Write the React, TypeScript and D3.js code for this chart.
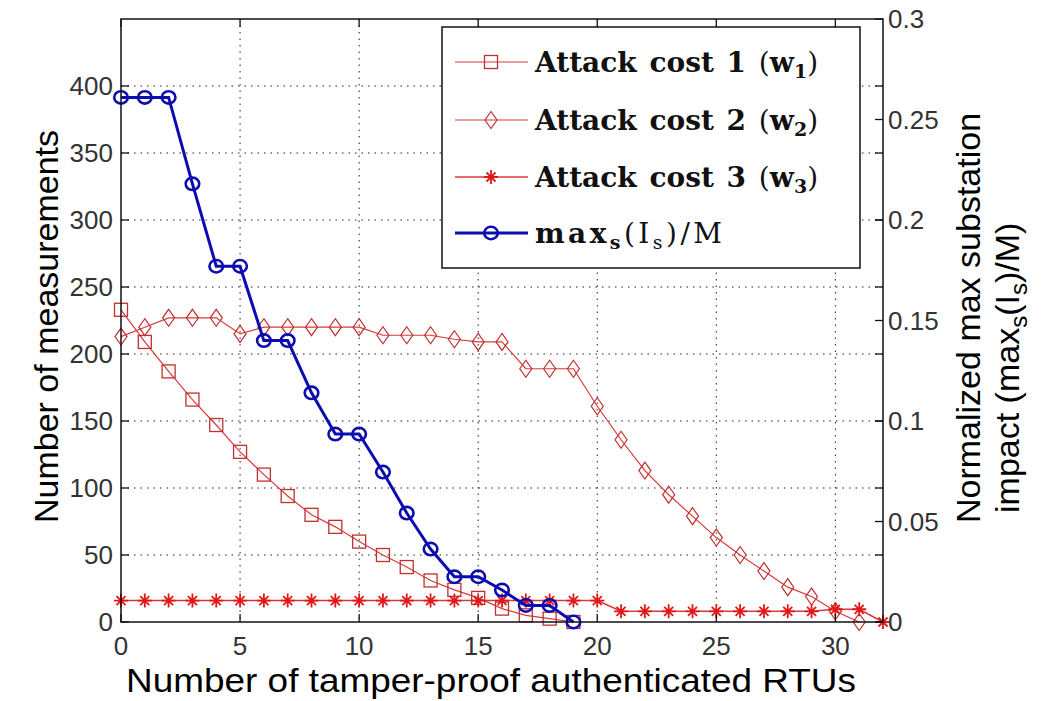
import React from 'react';
import * as d3 from 'd3';

// values
const cost1 = [233, 209, 187, 166, 147, 127, 110, 94, 80, 71, 60, 50, 41, 31, 24, 18, 10, 5, 2.5, 0];
const cost2 = [213, 220, 227, 227, 227, 215, 220, 220, 220, 220, 220, 214, 214, 214, 211, 209, 209, 189, 189, 189,
  161, 136, 113, 95, 79, 63, 50, 38, 26, 19, 8, 0];
const cost3 = [16, 16, 16, 16, 16, 16, 16, 16, 16, 16, 16, 16, 16, 16, 16, 16, 16, 16, 16, 16, 16,
  8, 8, 8, 8, 8, 8, 8, 8, 8, 9.5, 9.5, 0];
const impact = [0.261, 0.261, 0.261, 0.218, 0.177, 0.177, 0.140, 0.140, 0.114, 0.0935, 0.0935, 0.0746, 0.0542,
  0.0363, 0.0225, 0.0225, 0.0159, 0.0082, 0.0082, 0];

const xTicks = [0, 5, 10, 15, 20, 25, 30];
const leftTicks = [0, 50, 100, 150, 200, 250, 300, 350, 400];
const rightTicks = [0, 0.05, 0.1, 0.15, 0.2, 0.25, 0.3];
const gridX = [5, 10, 15, 20, 25, 30];
const gridY = [50, 100, 150, 200, 250, 300, 350, 400];

const W = 1053;
const H = 701;
const m = { left: 121, right: 883, top: 19, bottom: 622 };

const RED = '#d83a3a';
const DARKRED = '#c03030';
const BLUE = '#0c0cb0';

const App: React.FC = () => {
  const x = d3.scaleLinear().domain([0, 32]).range([m.left, m.right]);
  const yL = d3.scaleLinear().domain([0, 450]).range([m.bottom, m.top]);
  const yR = d3.scaleLinear().domain([0, 0.3]).range([m.bottom, m.top]);

  const lineL = d3.line<number>().x((_, i) => x(i)).y(d => yL(d));
  const lineR = d3.line<number>().x((_, i) => x(i)).y(d => yR(d));

  const square = (cx: number, cy: number, k: string) => (
    <rect key={k} x={cx - 6.5} y={cy - 6.5} width={13} height={13} fill="none" stroke={DARKRED} strokeWidth={1.3} />
  );
  const diamond = (cx: number, cy: number, k: string) => (
    <path key={k} d={`M${cx},${cy - 8.5}L${cx + 6},${cy}L${cx},${cy + 8.5}L${cx - 6},${cy}Z`}
      fill="none" stroke={DARKRED} strokeWidth={1.2} />
  );
  const star = (cx: number, cy: number, k: string) => (
    <path key={k} d={`M${cx - 7},${cy}H${cx + 7}M${cx},${cy - 7}V${cy + 7}M${cx - 4.5},${cy - 4.5}L${cx + 4.5},${cy + 4.5}M${cx - 4.5},${cy + 4.5}L${cx + 4.5},${cy - 4.5}`}
      stroke="#e01818" strokeWidth={1.8} fill="none" />
  );
  const circle = (cx: number, cy: number, k: string) => (
    <ellipse key={k} cx={cx} cy={cy} rx={6.8} ry={6.2} fill="none" stroke={BLUE} strokeWidth={2.6} />
  );

  const tick = 8;
  const legendRows = [62, 120, 177, 233];
  const lx0 = 455;
  const lx1 = 528;
  const lmx = 491;
  const serif = '"DejaVu Serif", serif';
  const sans = '"Liberation Sans", Arial, sans-serif';

  return (
    <div style={{ position: 'absolute', left: 0, top: 0, background: '#fff' }}>
      <svg width={W} height={H} viewBox={`0 0 ${W} ${H}`} style={{ display: 'block' }}>
        <rect width={W} height={H} fill="#fff" />

        {/* grid */}
        <g stroke="#222" strokeWidth={1} strokeDasharray="1.5,5">
          {gridX.map(v => (
            <line key={'gx' + v} x1={x(v)} x2={x(v)} y1={m.top} y2={m.bottom} />
          ))}
          {gridY.map(v => (
            <line key={'gy' + v} x1={m.left} x2={m.right} y1={yL(v)} y2={yL(v)} />
          ))}
        </g>

        {/* series */}
        <path d={lineL(cost2) || ''} fill="none" stroke={RED} strokeWidth={1.2} />
        <path d={lineL(cost1) || ''} fill="none" stroke={RED} strokeWidth={1.2} />
        <path d={lineL(cost3) || ''} fill="none" stroke={RED} strokeWidth={1.6} />
        {cost2.map((v, i) => diamond(x(i), yL(v), 'd' + i))}
        {cost1.map((v, i) => square(x(i), yL(v), 's' + i))}
        {cost3.map((v, i) => star(x(i), yL(v), 'st' + i))}
        <path d={lineR(impact) || ''} fill="none" stroke={BLUE} strokeWidth={3} />
        {impact.map((v, i) => circle(x(i), yR(v), 'c' + i))}

        {/* axes box */}
        <rect x={m.left} y={m.top} width={m.right - m.left} height={m.bottom - m.top} fill="none" stroke="#111" strokeWidth={1.5} />
        <g stroke="#111" strokeWidth={1.3}>
          {xTicks.map(v => (
            <g key={'xt' + v}>
              <line x1={x(v)} x2={x(v)} y1={m.bottom} y2={m.bottom - tick} />
              <line x1={x(v)} x2={x(v)} y1={m.top} y2={m.top + tick} />
            </g>
          ))}
          {leftTicks.map(v => (
            <g key={'lt' + v}>
              <line x1={m.left} x2={m.left + tick} y1={yL(v)} y2={yL(v)} />
              <line x1={m.right} x2={m.right - tick} y1={yL(v)} y2={yL(v)} />
            </g>
          ))}
          {rightTicks.map(v => (
            <line key={'rt' + v} x1={m.right} x2={m.right - tick} y1={yR(v)} y2={yR(v)} />
          ))}
        </g>

        {/* tick labels */}
        <g fontFamily={sans} fontSize={26} fill="#333">
          {xTicks.map(v => (
            <text key={'xl' + v} x={x(v)} y={m.bottom + 33} textAnchor="middle">{v}</text>
          ))}
          {leftTicks.map(v => (
            <text key={'ll' + v} x={m.left - 8} y={yL(v) + 9} textAnchor="end">{v}</text>
          ))}
          {rightTicks.map(v => (
            <text key={'rl' + v} x={m.right + 5} y={yR(v) + 9} textAnchor="start">{v}</text>
          ))}
        </g>

        {/* axis titles */}
        <g fontFamily={sans} fontSize={34} fill="#000">
          <text x={491} y={692} textAnchor="middle" textLength={730} lengthAdjust="spacingAndGlyphs">
            Number of tamper-proof authenticated RTUs
          </text>
          <text transform={`translate(58,${(m.top + m.bottom) / 2 + 6}) rotate(-90)`} textAnchor="middle">Number of measurements</text>
          <text transform={`translate(980,523) rotate(-90)`} textAnchor="start">Normalized max substation</text>
          <text transform={`translate(1019,513) rotate(-90)`} textAnchor="start">
            impact (max<tspan dy={8} fontSize={24}>s</tspan>
            <tspan dy={-8}>(I</tspan>
            <tspan dy={8} fontSize={24}>s</tspan>
            <tspan dy={-8}>)/M)</tspan>
          </text>
        </g>

        {/* legend */}
        <rect x={442} y={27} width={418} height={241} fill="#fff" stroke="#111" strokeWidth={1.5} />
        <g>
          <line x1={lx0} x2={lx1} y1={legendRows[0]} y2={legendRows[0]} stroke={RED} strokeWidth={1.2} />
          {square(lmx, legendRows[0], 'ls')}
          <line x1={lx0} x2={lx1} y1={legendRows[1]} y2={legendRows[1]} stroke={RED} strokeWidth={1.2} />
          {diamond(lmx, legendRows[1], 'ld')}
          <line x1={lx0} x2={lx1} y1={legendRows[2]} y2={legendRows[2]} stroke={RED} strokeWidth={1.6} />
          {star(lmx, legendRows[2], 'lst')}
          <line x1={lx0} x2={lx1} y1={legendRows[3]} y2={legendRows[3]} stroke={BLUE} strokeWidth={3} />
          {circle(lmx, legendRows[3], 'lc')}
        </g>
        <g fontFamily={serif} fontSize={28} fontWeight="bold" fill="#111" wordSpacing={3}>
          {[1, 2, 3].map((n, i) => (
            <text key={'lt' + n} x={535} y={legendRows[i] + 10}>
              Attack cost {n} <tspan fontWeight="normal">(</tspan>w<tspan dy={6} fontSize={19}>{n}</tspan>
              <tspan dy={-6} fontWeight="normal">)</tspan>
            </text>
          ))}
          <text x={535} y={legendRows[3] + 10} textLength={187} lengthAdjust="spacing">
            max<tspan dy={6} fontSize={19}>s</tspan>
            <tspan dy={-6} fontWeight="normal">(I</tspan>
            <tspan dy={6} fontSize={19} fontWeight="normal">s</tspan>
            <tspan dy={-6} fontWeight="normal">)/M</tspan>
          </text>
        </g>
      </svg>
    </div>
  );
};

export default App;
